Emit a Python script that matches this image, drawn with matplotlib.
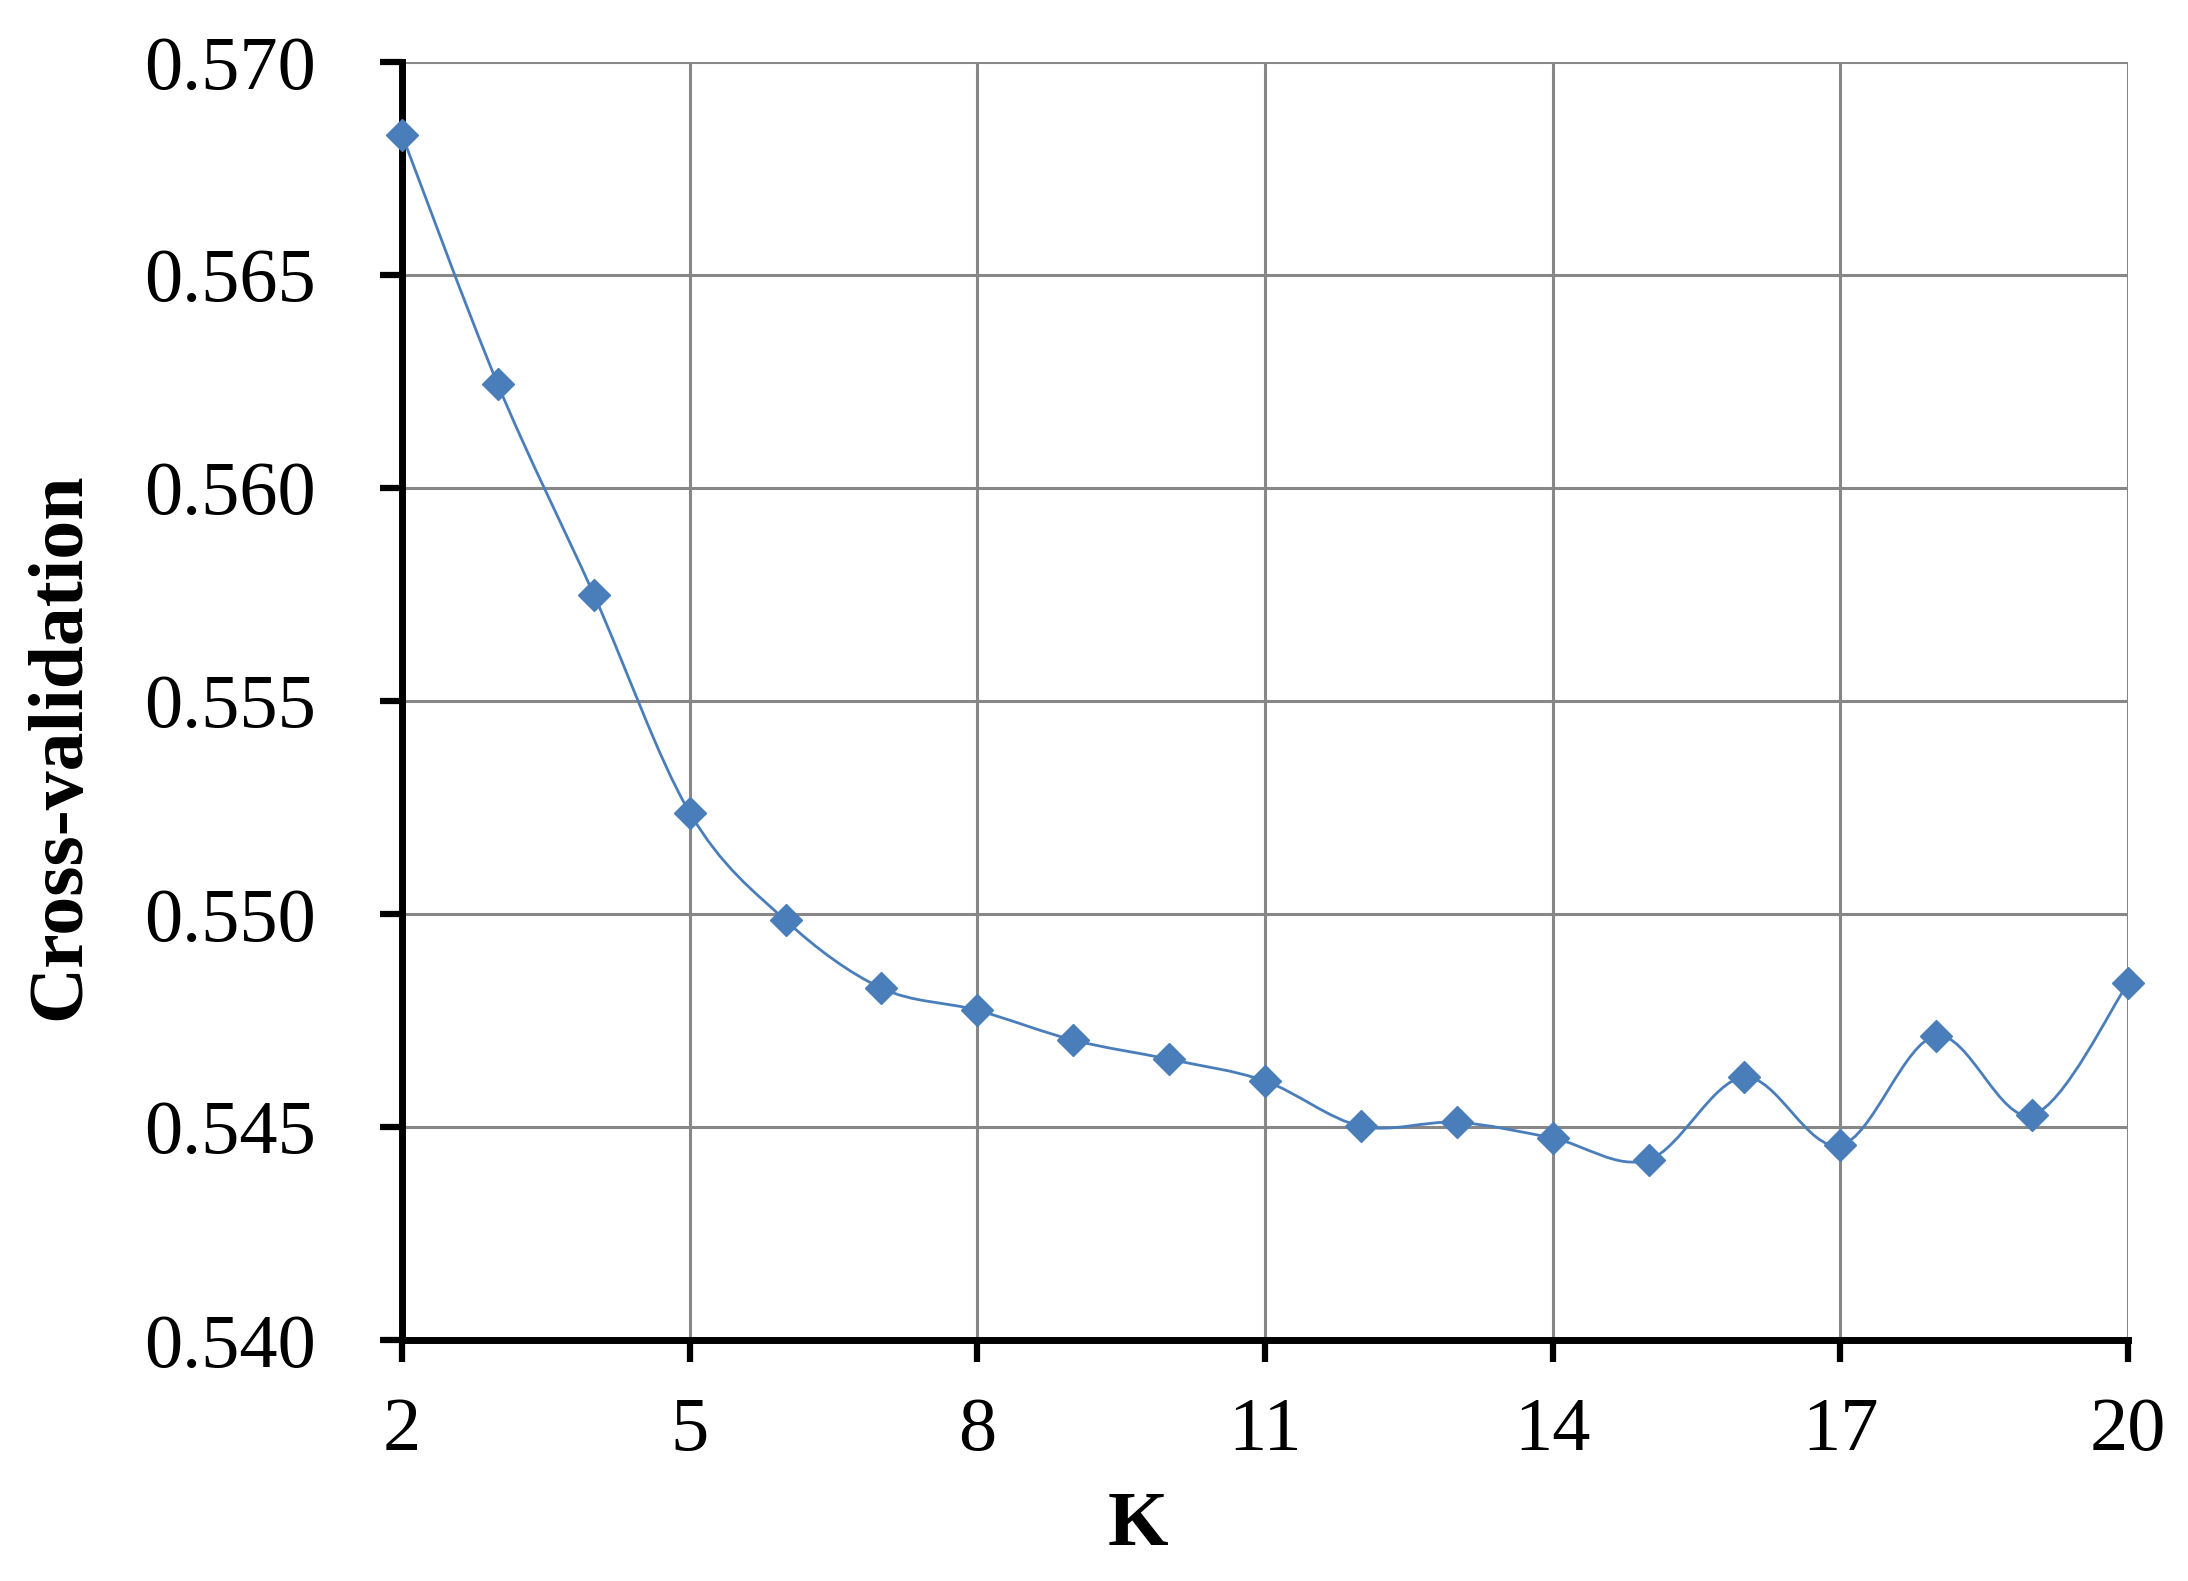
import matplotlib
matplotlib.use('Agg')
import matplotlib.pyplot as plt
from matplotlib.path import Path
from matplotlib.patches import PathPatch

# 数据
k_values = [2, 3, 4, 5, 6, 7, 8, 9, 10, 11, 12, 13, 14, 15, 16, 17, 18, 19, 20]
cv_values = [0.56829, 0.56243, 0.55750, 0.55238, 0.54985, 0.54826, 0.54774,
             0.54704, 0.54659, 0.54608, 0.54502, 0.54511, 0.54474, 0.54423,
             0.54617, 0.54457, 0.54714, 0.54528, 0.54837]
x_ticks = [2, 5, 8, 11, 14, 17, 20]
y_ticks = [0.540, 0.545, 0.550, 0.555, 0.560, 0.565, 0.570]

line_color = '#4a7ebb'
plt.rcParams['font.family'] = ['Liberation Serif', 'DejaVu Serif']

fig = plt.figure(figsize=(21.88, 15.81), dpi=100)
ax = fig.add_axes([402 / 2188, 1 - 1340 / 1581, 1726 / 2188, 1278 / 1581])

# 平滑曲线（类似 Excel 的平滑线）：用三次贝塞尔段连接各点
n = len(k_values)
verts = [(k_values[0], cv_values[0])]
codes = [Path.MOVETO]
for i in range(n - 1):
    x0, y0 = k_values[max(i - 1, 0)], cv_values[max(i - 1, 0)]
    x1, y1 = k_values[i], cv_values[i]
    x2, y2 = k_values[i + 1], cv_values[i + 1]
    x3, y3 = k_values[min(i + 2, n - 1)], cv_values[min(i + 2, n - 1)]
    c1 = (x1 + (x2 - x0) / 6, y1 + (y2 - y0) / 6)
    c2 = (x2 - (x3 - x1) / 6, y2 - (y3 - y1) / 6)
    verts += [c1, c2, (x2, y2)]
    codes += [Path.CURVE4] * 3
curve = PathPatch(Path(verts, codes), facecolor='none', edgecolor=line_color,
                  linewidth=2.0, zorder=3, clip_on=False)
ax.add_patch(curve)

ax.plot(k_values, cv_values, linestyle='none', marker='D', markersize=16,
        color=line_color, markeredgecolor=line_color, zorder=4, clip_on=False)

ax.set_xlim(2, 20)
ax.set_ylim(0.540, 0.570)
ax.set_xticks(x_ticks)
ax.set_yticks(y_ticks)
ax.set_yticklabels([f'{v:.3f}' for v in y_ticks])
ax.grid(True, color='#878787', linewidth=2.2)
ax.set_axisbelow(True)

for side in ['top', 'right']:
    ax.spines[side].set_visible(False)
for side in ['left', 'bottom']:
    ax.spines[side].set_linewidth(5)
    ax.spines[side].set_color('black')

ax.tick_params(axis='both', direction='out', length=16, width=4.5,
               labelsize=55, colors='black')
ax.tick_params(axis='y', pad=46)
ax.tick_params(axis='x', pad=25)

ax.set_xlabel('K', fontsize=56, fontweight='bold', va='center')
ax.xaxis.set_label_coords(0.4264, -0.1463)
ax.set_ylabel('Cross-validation', fontsize=56, fontweight='bold', va='center')
ax.yaxis.set_label_coords(-0.1976, 0.4648)

fig.savefig('out.png', dpi=100)
